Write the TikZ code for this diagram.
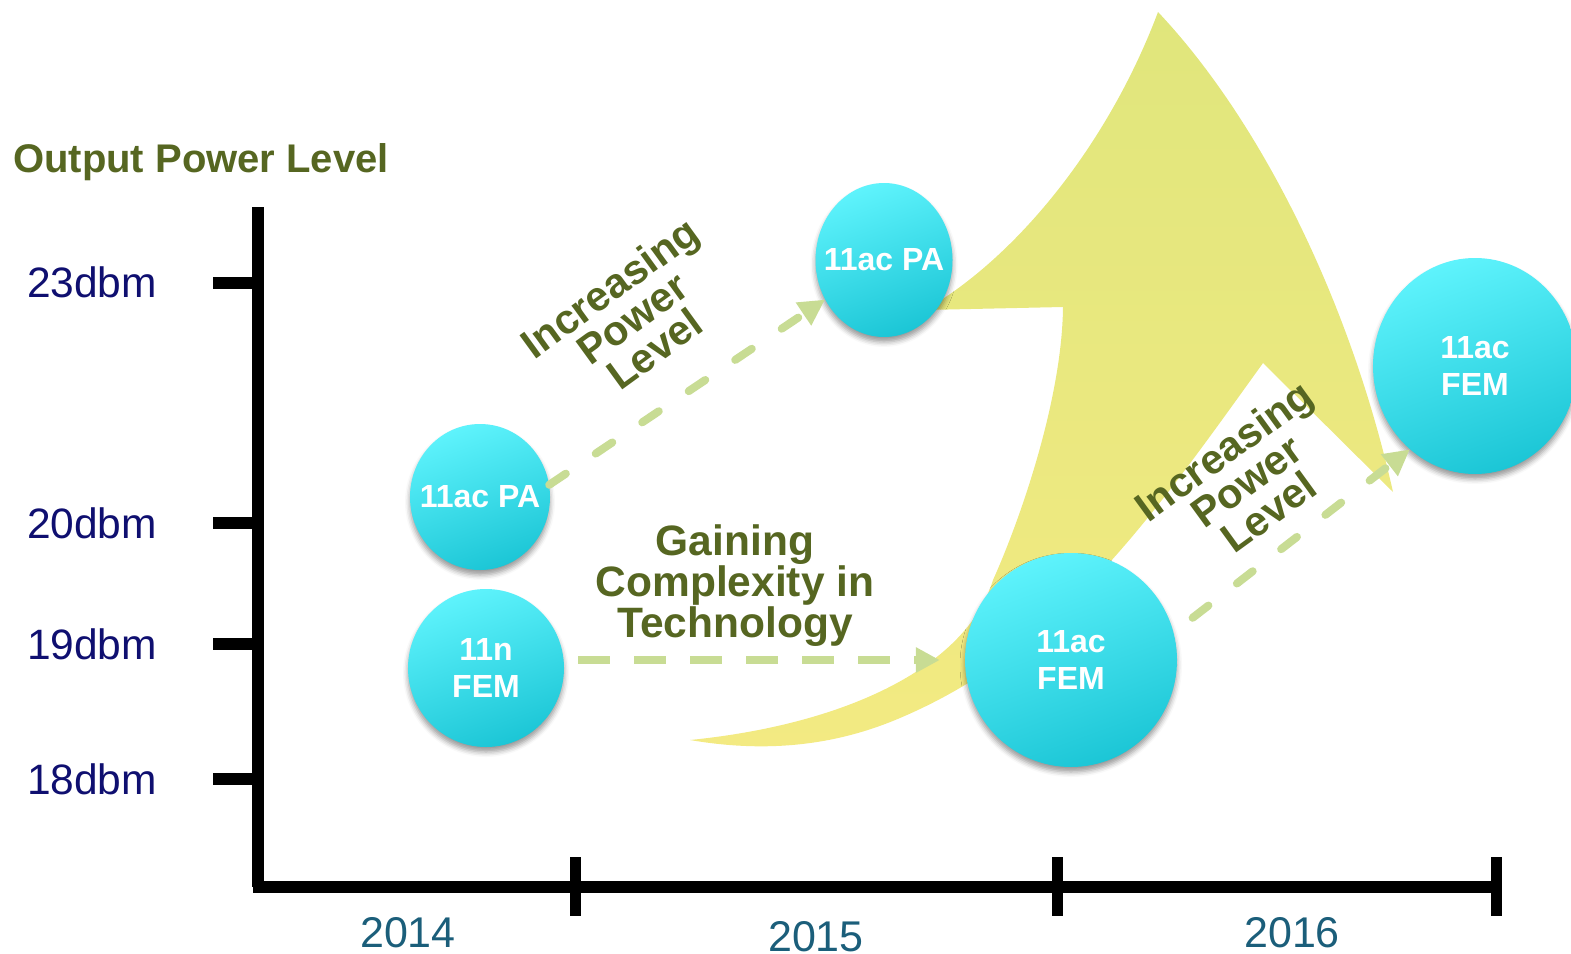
\documentclass[tikz,border=0pt]{standalone}
\usepackage{fontspec}
\setmainfont{Liberation Sans}
\usetikzlibrary{shapes.geometric,arrows.meta,shadows.blur}
\definecolor{balltop}{RGB}{94,243,252}
\definecolor{ballbot}{RGB}{28,198,214}
\definecolor{yeltop}{RGB}{224,230,124}
\definecolor{yelbot}{RGB}{243,234,130}
\definecolor{dashgreen}{RGB}{200,220,148}
\definecolor{olive}{RGB}{86,102,33}
\definecolor{navy}{RGB}{15,15,112}
\definecolor{yearteal}{RGB}{27,94,122}
\pgfdeclarelayer{background}
\pgfsetlayers{background,main}
\begin{document}
\begin{tikzpicture}[x=1pt,y=-1pt,
  ball/.style={ellipse, inner sep=0pt, top color=balltop, bottom color=ballbot, shading angle=20,
    blur shadow={shadow xshift=0pt, shadow yshift=-5pt, shadow blur radius=5pt, shadow opacity=40}},
  balltext/.style={text=white, font=\fontsize{32}{37}\selectfont\bfseries, align=center},
  dashline/.style={draw=dashgreen, line width=8pt},
  diag/.style={dashline, line cap=round, dash pattern=on 20pt off 36pt, -{Triangle[length=26pt,width=26pt]}},
  horiz/.style={dashline, dash pattern=on 32pt off 24pt, -{Triangle[length=24pt,width=24pt]}},
  axisline/.style={line width=12pt},
  ticky/.style={line width=12pt},
  tickx/.style={line width=11pt},
  ylab/.style={text=navy, font=\fontsize{42.5}{44}\selectfont, anchor=base, inner sep=0pt},
  yearlab/.style={text=yearteal, font=\fontsize{43}{44}\selectfont, anchor=base, inner sep=0pt},
  olivetext/.style={text=olive, font=\fontsize{41.5}{38}\selectfont\bfseries, align=center}
]
\useasboundingbox (0,0) rectangle (1571,953);

% axes
\draw[axisline] (258,207) -- (258,887);
\draw[axisline] (253,887) -- (1496,887);
\foreach \yy in {283,523,644,779} \draw[ticky] (213,\yy) -- (258,\yy);
\foreach \xx in {575,1057,1496} \draw[tickx] (\xx,857) -- (\xx,916);

% axis labels
\node[text=olive, font=\fontsize{40}{44}\selectfont\bfseries, anchor=base west, inner sep=0pt] (ylabel) at (13,172) {Output Power Level};
\node[ylab] (l23) at (92,297) {23dbm};
\node[ylab] (l20) at (92,538) {20dbm};
\node[ylab] (l19) at (92,659) {19dbm};
\node[ylab] (l18) at (92,794) {18dbm};
\node[yearlab] (y14) at (408,947) {2014};
\node[yearlab] (y15) at (816,951) {2015};
\node[yearlab] (y16) at (1292,947) {2016};

% balls
\node[ball, minimum width=140pt, minimum height=146pt, label={[balltext]center:11ac PA}] (pa1) at (480,497) {};
\node[ball, minimum width=156pt, minimum height=158pt, label={[balltext]center:11n\\FEM}] (fem1) at (486,668) {};
\node[ball, minimum width=137pt, minimum height=154pt, label={[balltext]center:11ac PA}] (pa2) at (884,260) {};
\node[ball, minimum width=212pt, minimum height=214pt, label={[balltext]center:11ac\\FEM}] (fem2) at (1071,660) {};
\node[ball, minimum width=204pt, minimum height=216pt, label={[balltext]center:11ac\\FEM}] (fem3) at (1475,366) {};

% big yellow arrow
\begin{pgfonlayer}{background}
\path[top color=yeltop, bottom color=yelbot]
  (690,740) .. controls (840,725) and (965,670) .. (993,580)
  .. controls (1020,520) and (1062,400) .. (1063,307)
  -- (925,310)
  .. controls (1020,255) and (1110,140) .. (1158,12)
  .. controls (1260,120) and (1350,300) .. (1393,492)
  -- (1263,363)
  .. controls (1150,520) and (1060,650) .. (900,718)
  .. controls (830,748) and (760,752) .. (690,740) -- cycle;
\end{pgfonlayer}

% dashed connectors
\draw[diag] (pa1.10) -- (pa2);
\draw[horiz, shorten <=14pt, shorten >=25pt] (fem1.east |- fem2.west) -- (fem2.west);
\draw[diag, shorten <=24pt] (fem2.15) -- (fem3.232);

% texts
\node[olivetext, rotate=36] (inc1) at (632,318) {Increasing\\Power\\Level};
\node[olivetext, rotate=36] (inc2) at (1246,481) {Increasing\\Power\\Level};
\node[olivetext, font=\fontsize{42.5}{41}\selectfont\bfseries] (gain) at (735,586) {Gaining\\Complexity in\\Technology};
\end{tikzpicture}
\end{document}
